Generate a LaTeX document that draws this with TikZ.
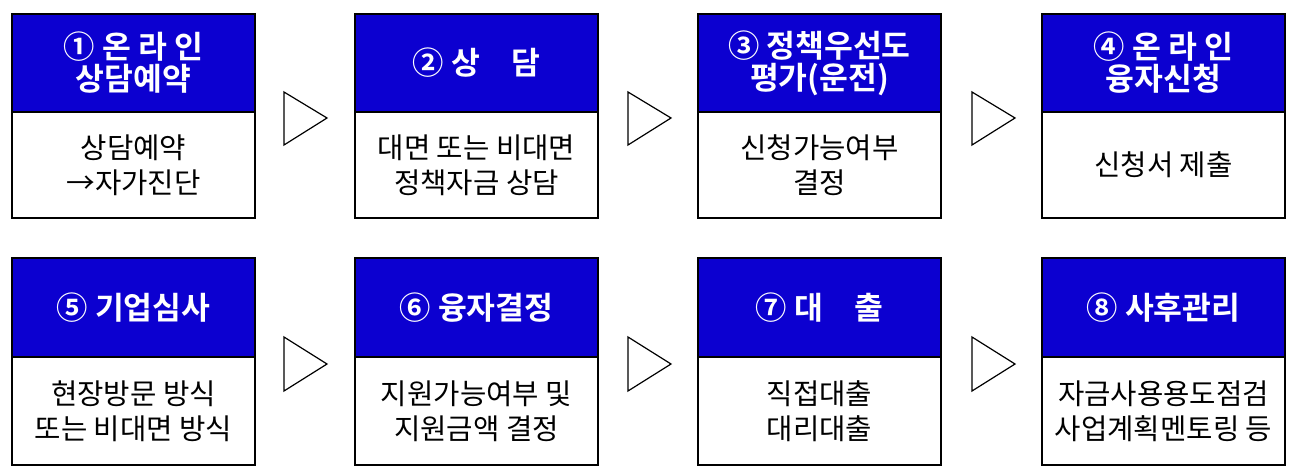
\documentclass[tikz,border=0pt]{standalone}
\usepackage{fontspec}
\setmainfont{Noto Sans CJK KR}
\newfontfamily\hb{Noto Sans CJK KR Bold}
\definecolor{hblue}{RGB}{12,0,208}
\tikzset{
  hdr/.style={fill=hblue,draw=black,line width=0.8pt},
  bdy/.style={fill=white,draw=black,line width=0.8pt},
  htxt/.style={text=white,font=\hb\fontsize{23.5}{24}\selectfont,align=center},
  btxt/.style={text=black,font=\fontsize{21.5}{26}\selectfont,align=center},
  tri/.style={draw=black,line width=0.9pt,fill=white}
}
\begin{document}
\begin{tikzpicture}[x=0.75pt,y=-0.75pt]
\useasboundingbox (0,0) rectangle (1291,471);
\foreach \x/\h/\b [count=\i] in {
 12/{① 온 라 인\\ 상담예약}/{상담예약\\→자가진단},
 355/{② 상\quad 담}/{대면 또는 비대면\\정책자금 상담},
 698/{③ 정책우선도\\ 평가(운전)}/{신청가능여부\\결정},
 1042/{④ 온 라 인\\ 융자신청}/{신청서 제출}}{
  \draw[hdr] (\x,14) rectangle ++(243,98);
  \draw[bdy] (\x,112) rectangle ++(243,106);
  \node[htxt] (h\i) at (\x+121.5,63) {\h};
  \node[btxt] (b\i) at (\x+121.5,165) {\b};
}
\foreach \x/\h/\b [count=\i from 5] in {
 12/{⑤ 기업심사}/{현장방문 방식\\또는 비대면 방식},
 355/{⑥ 융자결정}/{지원가능여부 및\\지원금액 결정},
 698/{⑦ 대\quad 출}/{직접대출\\대리대출},
 1042/{⑧ 사후관리}/{자금사용용도점검\\사업계획멘토링 등}}{
  \draw[hdr] (\x,258) rectangle ++(243,99);
  \draw[bdy] (\x,357) rectangle ++(243,108);
  \node[htxt] (h\i) at (\x+121.5,308) {\h};
  \node[btxt] (b\i) at (\x+121.5,411) {\b};
}
\foreach \x in {284,628,972}{
  \draw[tri] (\x,92) -- (\x+43,118) -- (\x,145) -- cycle;
  \draw[tri] (\x,337) -- (\x+43,364) -- (\x,391) -- cycle;
}
\end{tikzpicture}
\end{document}
